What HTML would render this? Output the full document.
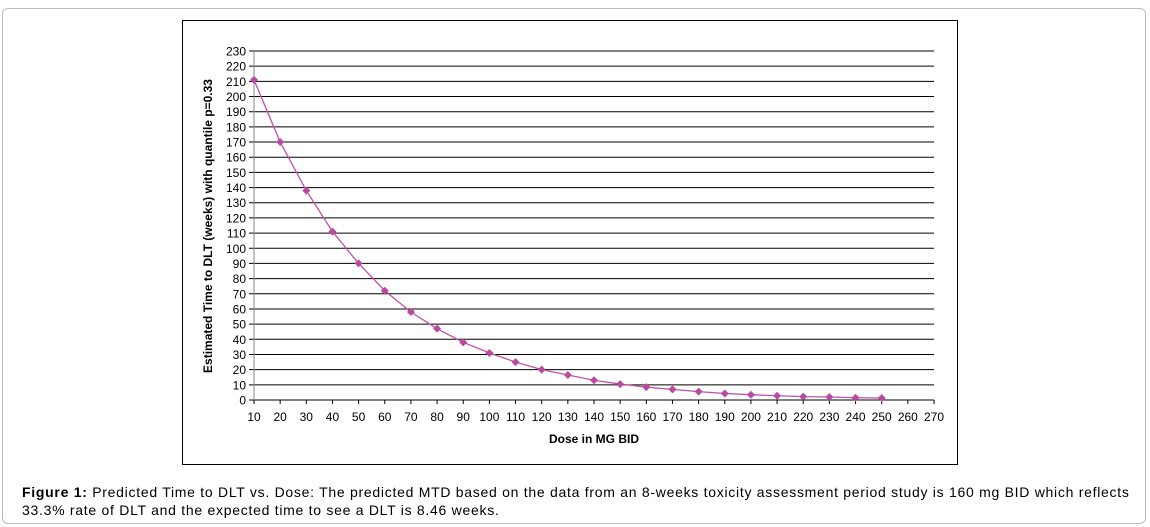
<!DOCTYPE html>
<html><head><meta charset="utf-8"><style>
body{margin:0;width:1150px;height:527px;background:#fff;font-family:"Liberation Sans",Arial,sans-serif;overflow:hidden}
#outer{position:absolute;left:2px;top:8px;width:1144px;height:516px;border:1px solid #bbb;border-radius:6px;box-sizing:border-box}
#cap{position:absolute;left:22px;top:483px;width:1115px;font-size:14px;letter-spacing:0.72px;line-height:18px;color:#000}
</style></head><body>
<div id="outer"></div>
<svg id="chart" width="1150" height="527" style="position:absolute;left:0;top:0" font-family="Liberation Sans, Arial, sans-serif">
<rect x="182.5" y="20.5" width="775" height="444" fill="#fff" stroke="#000" stroke-width="1"/>
<g id="grid"></g><g id="series"></g>
<text transform="translate(212,226) rotate(-90)" text-anchor="middle" font-size="12" font-weight="bold">Estimated Time to DLT (weeks) with quantile p=0.33</text>
<text x="594" y="443" text-anchor="middle" font-size="12" font-weight="bold">Dose in MG BID</text>
</svg>
<div id="cap"><b>Figure 1:</b> Predicted Time to DLT vs. Dose: The predicted MTD based on the data from an 8-weeks toxicity assessment period study is 160 mg BID which reflects 33.3% rate of DLT and the expected time to see a DLT is 8.46 weeks.</div>
<script>
const doses=[10,20,30,40,50,60,70,80,90,100,110,120,130,140,150,160,170,180,190,200,210,220,230,240,250];
const times=[211,170,138,111,90,72,58,47,38,31,25,20,16.5,13,10.5,8.5,7,5.5,4.3,3.5,2.8,2.2,2,1.5,1.3];
const yTicks=[0,10,20,30,40,50,60,70,80,90,100,110,120,130,140,150,160,170,180,190,200,210,220,230];
const xTicks=[10,20,30,40,50,60,70,80,90,100,110,120,130,140,150,160,170,180,190,200,210,220,230,240,250,260,270];
const NS="http://www.w3.org/2000/svg";
const X=v=>254+(v-10)*(680/260), Y=v=>400-v*(349/230);
const grid=document.getElementById('grid'), ser=document.getElementById('series');
function mk(t,a,p){const e=document.createElementNS(NS,t);for(const k in a)e.setAttribute(k,a[k]);p.appendChild(e);return e;}
yTicks.forEach(v=>{
 const l=mk('line',{x1:249,x2:934,y1:Y(v),y2:Y(v),stroke:'#000','stroke-width':1},grid);
 
 
 const t=mk('text',{x:246,y:Y(v)+4.5,'text-anchor':'end','font-size':12},grid);t.textContent=v;
 
 
});
const ax=mk('line',{x1:254,x2:254,y1:Y(230),y2:Y(0),stroke:'#888','stroke-width':1},grid);


xTicks.forEach(v=>{
 const l=mk('line',{x1:X(v),x2:X(v),y1:Y(0),y2:Y(0)+4,stroke:'#000'},grid);
 
 
 const t=mk('text',{x:X(v),y:421,'text-anchor':'middle','font-size':12},grid);t.textContent=v;
 
 
});
let d='';doses.forEach((v,i)=>{d+=(i?'L':'M')+X(v)+','+Y(times[i]);});
const p=mk('path',{d:d,fill:'none',stroke:'#c050a8','stroke-width':1.3},ser);


doses.forEach((v,i)=>{const x=X(v),y=Y(times[i]);
 const m=mk('polygon',{points:`${x},${y-4} ${x+4},${y} ${x},${y+4} ${x-4},${y}`,fill:'#b84aa0'},ser);
 
 
});
</script>
</body></html>
